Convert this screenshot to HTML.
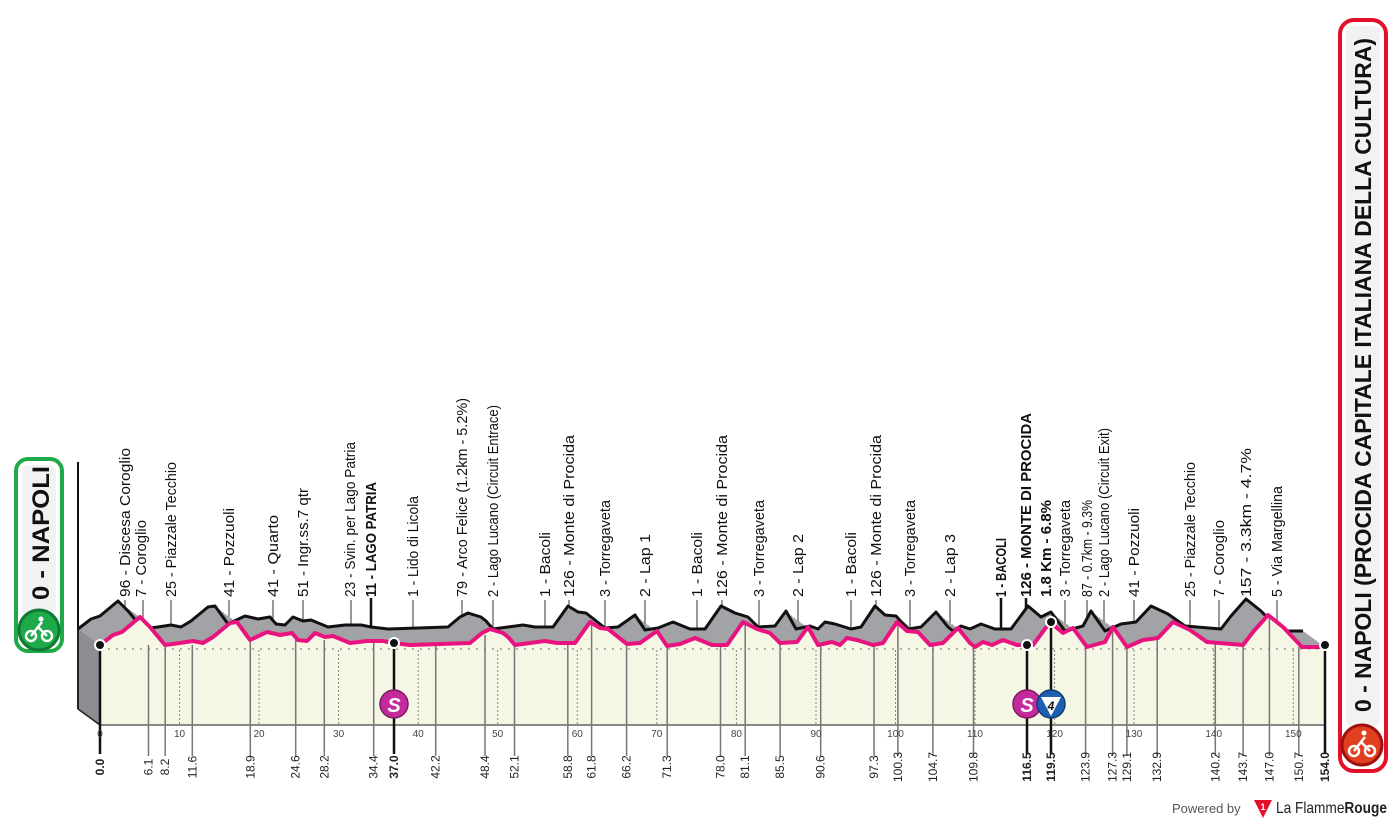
<!DOCTYPE html>
<html><head><meta charset="utf-8"><style>
html,body{margin:0;padding:0;background:#fff;}
svg{display:block;font-family:"Liberation Sans Narrow","Liberation Sans",sans-serif;}
</style></head><body>
<svg width="1400" height="825" viewBox="0 0 1400 825" xmlns="http://www.w3.org/2000/svg">
<defs>
<polygon id="prof" points="100,645 113,635 122,632 140,617 150,627 165,645 180,643 193,641 203,643 213,637 230,623 237,622 250,640 267,632 280,635 292,633 298,640 307,641 315,633 325,637 333,636 350,643 367,641 383,641 393,643 410,645 470,643 482,633 490,629 503,633 508,637 515,645 530,643 545,641 557,643 575,643 590,622 600,628 608,629 627,644 640,643 657,631 667,646 680,644 695,638 712,645 727,645 743,622 757,629 770,633 780,643 797,642 808,627 818,645 832,642 840,645 847,638 857,640 873,645 883,643 897,622 907,631 918,632 930,645 943,643 958,628 970,643 975,647 983,642 992,645 1003,640 1017,645 1033,645 1050,622 1063,633 1073,628 1087,647 1105,642 1113,627 1127,647 1143,640 1158,638 1173,622 1190,630 1207,642 1243,645 1253,632 1268,615 1283,627 1302,647 1325,647 1325,725 100,725"/>
<polyline id="pline" fill="none" points="100,645 113,635 122,632 140,617 150,627 165,645 180,643 193,641 203,643 213,637 230,623 237,622 250,640 267,632 280,635 292,633 298,640 307,641 315,633 325,637 333,636 350,643 367,641 383,641 393,643 410,645 470,643 482,633 490,629 503,633 508,637 515,645 530,643 545,641 557,643 575,643 590,622 600,628 608,629 627,644 640,643 657,631 667,646 680,644 695,638 712,645 727,645 743,622 757,629 770,633 780,643 797,642 808,627 818,645 832,642 840,645 847,638 857,640 873,645 883,643 897,622 907,631 918,632 930,645 943,643 958,628 970,643 975,647 983,642 992,645 1003,640 1017,645 1033,645 1050,622 1063,633 1073,628 1087,647 1105,642 1113,627 1127,647 1143,640 1158,638 1173,622 1190,630 1207,642 1243,645 1253,632 1268,615 1283,627 1302,647 1325,647"/>
</defs>

<line x1="78" y1="462" x2="78" y2="630" stroke="#111" stroke-width="2"/>

<g stroke="#777" stroke-width="1.5">
<line x1="125" y1="600" x2="125" y2="650"/><line x1="143" y1="600" x2="143" y2="650"/><line x1="171" y1="600" x2="171" y2="650"/>
<line x1="229" y1="600" x2="229" y2="650"/><line x1="273" y1="600" x2="273" y2="650"/><line x1="303" y1="600" x2="303" y2="650"/>
<line x1="351" y1="600" x2="351" y2="650"/><line x1="413" y1="600" x2="413" y2="650"/><line x1="462" y1="600" x2="462" y2="650"/>
<line x1="493" y1="600" x2="493" y2="650"/><line x1="545" y1="600" x2="545" y2="650"/><line x1="569" y1="600" x2="569" y2="650"/>
<line x1="605" y1="600" x2="605" y2="650"/><line x1="645" y1="600" x2="645" y2="650"/><line x1="697" y1="600" x2="697" y2="650"/>
<line x1="722" y1="600" x2="722" y2="650"/><line x1="759" y1="600" x2="759" y2="650"/><line x1="798" y1="600" x2="798" y2="650"/>
<line x1="851" y1="600" x2="851" y2="650"/><line x1="876" y1="600" x2="876" y2="650"/><line x1="910" y1="600" x2="910" y2="650"/>
<line x1="950" y1="600" x2="950" y2="650"/><line x1="1065" y1="600" x2="1065" y2="650"/><line x1="1087" y1="600" x2="1087" y2="650"/>
<line x1="1104" y1="600" x2="1104" y2="650"/><line x1="1134" y1="600" x2="1134" y2="650"/><line x1="1190" y1="600" x2="1190" y2="650"/>
<line x1="1219" y1="600" x2="1219" y2="650"/><line x1="1246" y1="600" x2="1246" y2="650"/><line x1="1277" y1="600" x2="1277" y2="650"/>
</g>
<g stroke="#111" stroke-width="2.5">
<line x1="371" y1="598" x2="371" y2="650"/><line x1="1001" y1="598" x2="1001" y2="650"/><line x1="1026" y1="598" x2="1026" y2="650"/>
</g>

<g fill="#a2a3a6">
<use href="#prof" transform="translate(-22,-16)"/>
<use href="#prof" transform="translate(-19.25,-14)"/>
<use href="#prof" transform="translate(-16.5,-12)"/>
<use href="#prof" transform="translate(-13.75,-10)"/>
<use href="#prof" transform="translate(-11,-8)"/>
<use href="#prof" transform="translate(-8.25,-6)"/>
<use href="#prof" transform="translate(-5.5,-4)"/>
<use href="#prof" transform="translate(-2.75,-2)"/>
<polygon points="1300,631 1303,631 1325,647 1300,647"/>
</g>
<use href="#pline" transform="translate(-22,-16)" stroke="#111" stroke-width="3" stroke-linejoin="round"/>
<polygon points="78,629 100,645 100,725 78,709" fill="#8c8d90"/>
<line x1="78" y1="629" x2="78" y2="709" stroke="#222" stroke-width="2"/>
<line x1="78" y1="709" x2="100" y2="725" stroke="#222" stroke-width="1.5"/>

<use href="#prof" fill="#f6f6e4"/>
<line x1="100" y1="725" x2="1325" y2="725" stroke="#888" stroke-width="2"/>
<line x1="100" y1="649" x2="1325" y2="649" stroke="#999" stroke-width="1.5" stroke-dasharray="2,6"/>
<g stroke="#888" stroke-width="1" stroke-dasharray="2,2">
<line x1="179.5" y1="650" x2="179.5" y2="725"/><line x1="259" y1="650" x2="259" y2="725"/><line x1="338.6" y1="650" x2="338.6" y2="725"/>
<line x1="418.2" y1="650" x2="418.2" y2="725"/><line x1="497.7" y1="650" x2="497.7" y2="725"/><line x1="577.3" y1="650" x2="577.3" y2="725"/>
<line x1="656.8" y1="650" x2="656.8" y2="725"/><line x1="736.4" y1="650" x2="736.4" y2="725"/><line x1="816" y1="650" x2="816" y2="725"/>
<line x1="895.5" y1="650" x2="895.5" y2="725"/><line x1="975" y1="650" x2="975" y2="725"/><line x1="1054.6" y1="650" x2="1054.6" y2="725"/>
<line x1="1134" y1="650" x2="1134" y2="725"/><line x1="1213.7" y1="650" x2="1213.7" y2="725"/><line x1="1293.3" y1="650" x2="1293.3" y2="725"/>
</g>

<g stroke="#777" stroke-width="1.5">
<line x1="148.5" y1="645" x2="148.5" y2="756"/><line x1="165.2" y1="645" x2="165.2" y2="756"/><line x1="192.3" y1="645" x2="192.3" y2="756"/>
<line x1="250.3" y1="640" x2="250.3" y2="756"/><line x1="295.7" y1="640" x2="295.7" y2="756"/><line x1="324.3" y1="640" x2="324.3" y2="756"/>
<line x1="373.7" y1="643" x2="373.7" y2="756"/><line x1="435.7" y1="645" x2="435.7" y2="756"/><line x1="485" y1="635" x2="485" y2="756"/>
<line x1="514.5" y1="645" x2="514.5" y2="756"/><line x1="567.8" y1="645" x2="567.8" y2="756"/><line x1="591.6" y1="625" x2="591.6" y2="756"/>
<line x1="626.6" y1="645" x2="626.6" y2="756"/><line x1="667.2" y1="645" x2="667.2" y2="756"/><line x1="720.5" y1="645" x2="720.5" y2="756"/>
<line x1="745.2" y1="625" x2="745.2" y2="756"/><line x1="780.1" y1="645" x2="780.1" y2="756"/><line x1="820.7" y1="645" x2="820.7" y2="756"/>
<line x1="874" y1="645" x2="874" y2="756"/><line x1="897.9" y1="625" x2="897.9" y2="756"/><line x1="932.9" y1="645" x2="932.9" y2="756"/>
<line x1="973.5" y1="645" x2="973.5" y2="756"/><line x1="1085.6" y1="647" x2="1085.6" y2="756"/><line x1="1112.6" y1="630" x2="1112.6" y2="756"/>
<line x1="1126.9" y1="647" x2="1126.9" y2="756"/><line x1="1157.2" y1="640" x2="1157.2" y2="756"/><line x1="1215.3" y1="642" x2="1215.3" y2="756"/>
<line x1="1243.1" y1="645" x2="1243.1" y2="756"/><line x1="1269.4" y1="617" x2="1269.4" y2="756"/><line x1="1298.8" y1="647" x2="1298.8" y2="756"/>
</g>
<g stroke="#111" stroke-width="2.5">
<line x1="100" y1="645" x2="100" y2="754"/><line x1="394" y1="643" x2="394" y2="754"/><line x1="1027" y1="645" x2="1027" y2="754"/>
<line x1="1051" y1="622" x2="1051" y2="754"/><line x1="1325" y1="645" x2="1325" y2="754"/>
</g>

<use href="#pline" stroke="#e8137f" stroke-width="4" stroke-linejoin="round"/>

<g fill="#111" stroke="#fff" stroke-width="2">
<circle cx="100" cy="645" r="5"/><circle cx="394" cy="643" r="5"/><circle cx="1027" cy="645" r="5"/><circle cx="1051" cy="622" r="5"/><circle cx="1325" cy="645" r="5"/>
</g>
<g font-family="Liberation Sans,sans-serif" font-weight="bold" font-style="italic" text-anchor="middle">
<circle cx="394" cy="704" r="14" fill="#c42a9c" stroke="#7a1a62" stroke-width="1.5"/>
<text x="394" y="712" font-size="20" fill="#fff">S</text>
<circle cx="1027" cy="704" r="14" fill="#c42a9c" stroke="#7a1a62" stroke-width="1.5"/>
<text x="1027" y="712" font-size="20" fill="#fff">S</text>
<circle cx="1051" cy="704" r="14" fill="#1f5fb0" stroke="#123c75" stroke-width="1.5"/>
<polygon points="1041,697 1061,697 1051,716" fill="#fff"/>
<text x="1051" y="710" font-size="12" fill="#111">4</text>
</g>

<g font-size="10" fill="#444" text-anchor="middle">
<text x="100" y="737">0</text><text x="179.5" y="737">10</text><text x="259" y="737">20</text><text x="338.6" y="737">30</text>
<text x="418.2" y="737">40</text><text x="497.7" y="737">50</text><text x="577.3" y="737">60</text><text x="656.8" y="737">70</text>
<text x="736.4" y="737">80</text><text x="816" y="737">90</text><text x="895.5" y="737">100</text><text x="975" y="737">110</text>
<text x="1054.6" y="737">120</text><text x="1134" y="737">130</text><text x="1213.7" y="737">140</text><text x="1293.3" y="737">150</text>
</g>

<g font-size="12" fill="#222" text-anchor="middle">
<text transform="translate(104,767) rotate(-90)" font-weight="bold">0.0</text>
<text transform="translate(152.5,767) rotate(-90)">6.1</text>
<text transform="translate(169.2,767) rotate(-90)">8.2</text>
<text transform="translate(196.3,767) rotate(-90)">11.6</text>
<text transform="translate(254.3,767) rotate(-90)">18.9</text>
<text transform="translate(299.7,767) rotate(-90)">24.6</text>
<text transform="translate(328.3,767) rotate(-90)">28.2</text>
<text transform="translate(377.7,767) rotate(-90)">34.4</text>
<text transform="translate(398,767) rotate(-90)" font-weight="bold">37.0</text>
<text transform="translate(439.7,767) rotate(-90)">42.2</text>
<text transform="translate(489,767) rotate(-90)">48.4</text>
<text transform="translate(518.5,767) rotate(-90)">52.1</text>
<text transform="translate(571.8,767) rotate(-90)">58.8</text>
<text transform="translate(595.6,767) rotate(-90)">61.8</text>
<text transform="translate(630.6,767) rotate(-90)">66.2</text>
<text transform="translate(671.2,767) rotate(-90)">71.3</text>
<text transform="translate(724.5,767) rotate(-90)">78.0</text>
<text transform="translate(749.2,767) rotate(-90)">81.1</text>
<text transform="translate(784.1,767) rotate(-90)">85.5</text>
<text transform="translate(824.7,767) rotate(-90)">90.6</text>
<text transform="translate(878,767) rotate(-90)">97.3</text>
<text transform="translate(901.9,767) rotate(-90)">100.3</text>
<text transform="translate(936.9,767) rotate(-90)">104.7</text>
<text transform="translate(977.5,767) rotate(-90)">109.8</text>
<text transform="translate(1031,767) rotate(-90)" font-weight="bold">116.5</text>
<text transform="translate(1055,767) rotate(-90)" font-weight="bold">119.5</text>
<text transform="translate(1089.6,767) rotate(-90)">123.9</text>
<text transform="translate(1116.6,767) rotate(-90)">127.3</text>
<text transform="translate(1130.9,767) rotate(-90)">129.1</text>
<text transform="translate(1161.2,767) rotate(-90)">132.9</text>
<text transform="translate(1219.3,767) rotate(-90)">140.2</text>
<text transform="translate(1247.1,767) rotate(-90)">143.7</text>
<text transform="translate(1273.4,767) rotate(-90)">147.0</text>
<text transform="translate(1302.8,767) rotate(-90)">150.7</text>
<text transform="translate(1329,767) rotate(-90)" font-weight="bold">154.0</text>
</g>

<g font-size="15" fill="#111">
<text transform="translate(130,597) rotate(-90)" textLength="149" lengthAdjust="spacingAndGlyphs">96 - Discesa Coroglio</text>
<text transform="translate(146,597) rotate(-90)" textLength="77" lengthAdjust="spacingAndGlyphs">7 - Coroglio</text>
<text transform="translate(176,597) rotate(-90)" textLength="135" lengthAdjust="spacingAndGlyphs">25 - Piazzale Tecchio</text>
<text transform="translate(234,597) rotate(-90)" textLength="89" lengthAdjust="spacingAndGlyphs">41 - Pozzuoli</text>
<text transform="translate(278,597) rotate(-90)" textLength="82" lengthAdjust="spacingAndGlyphs">41 - Quarto</text>
<text transform="translate(308,597) rotate(-90)" textLength="109" lengthAdjust="spacingAndGlyphs">51 - Ingr.ss.7 qtr</text>
<text transform="translate(355,597) rotate(-90)" textLength="155" lengthAdjust="spacingAndGlyphs">23 - Svin. per Lago Patria</text>
<text transform="translate(376,597) rotate(-90)" textLength="115" lengthAdjust="spacingAndGlyphs" font-weight="bold">11 - LAGO PATRIA</text>
<text transform="translate(418,597) rotate(-90)" textLength="101" lengthAdjust="spacingAndGlyphs">1 - Lido di Licola</text>
<text transform="translate(467,597) rotate(-90)" textLength="199" lengthAdjust="spacingAndGlyphs">79 - Arco Felice (1.2km - 5.2%)</text>
<text transform="translate(498,597) rotate(-90)" textLength="192" lengthAdjust="spacingAndGlyphs">2 - Lago Lucano (Circuit Entrace)</text>
<text transform="translate(550,597) rotate(-90)" textLength="65" lengthAdjust="spacingAndGlyphs">1 - Bacoli</text>
<text transform="translate(574,597) rotate(-90)" textLength="162" lengthAdjust="spacingAndGlyphs">126 - Monte di Procida</text>
<text transform="translate(610,597) rotate(-90)" textLength="97" lengthAdjust="spacingAndGlyphs">3 - Torregaveta</text>
<text transform="translate(650,597) rotate(-90)" textLength="63" lengthAdjust="spacingAndGlyphs">2 - Lap 1</text>
<text transform="translate(702,597) rotate(-90)" textLength="65" lengthAdjust="spacingAndGlyphs">1 - Bacoli</text>
<text transform="translate(727,597) rotate(-90)" textLength="162" lengthAdjust="spacingAndGlyphs">126 - Monte di Procida</text>
<text transform="translate(764,597) rotate(-90)" textLength="97" lengthAdjust="spacingAndGlyphs">3 - Torregaveta</text>
<text transform="translate(803,597) rotate(-90)" textLength="63" lengthAdjust="spacingAndGlyphs">2 - Lap 2</text>
<text transform="translate(856,597) rotate(-90)" textLength="65" lengthAdjust="spacingAndGlyphs">1 - Bacoli</text>
<text transform="translate(881,597) rotate(-90)" textLength="162" lengthAdjust="spacingAndGlyphs">126 - Monte di Procida</text>
<text transform="translate(915,597) rotate(-90)" textLength="97" lengthAdjust="spacingAndGlyphs">3 - Torregaveta</text>
<text transform="translate(955,597) rotate(-90)" textLength="63" lengthAdjust="spacingAndGlyphs">2 - Lap 3</text>
<text transform="translate(1006,597) rotate(-90)" textLength="59" lengthAdjust="spacingAndGlyphs" font-weight="bold">1 - BACOLI</text>
<text transform="translate(1031,597) rotate(-90)" textLength="184" lengthAdjust="spacingAndGlyphs" font-weight="bold">126 - MONTE DI PROCIDA</text>
<text transform="translate(1051,597) rotate(-90)" textLength="97" lengthAdjust="spacingAndGlyphs" font-weight="bold">1.8 Km - 6.8%</text>
<text transform="translate(1070,597) rotate(-90)" textLength="97" lengthAdjust="spacingAndGlyphs">3 - Torregaveta</text>
<text transform="translate(1092,597) rotate(-90)" textLength="97" lengthAdjust="spacingAndGlyphs">87 - 0.7km - 9.3%</text>
<text transform="translate(1109,597) rotate(-90)" textLength="169" lengthAdjust="spacingAndGlyphs">2 - Lago Lucano (Circuit Exit)</text>
<text transform="translate(1139,597) rotate(-90)" textLength="89" lengthAdjust="spacingAndGlyphs">41 - Pozzuoli</text>
<text transform="translate(1195,597) rotate(-90)" textLength="135" lengthAdjust="spacingAndGlyphs">25 - Piazzale Tecchio</text>
<text transform="translate(1224,597) rotate(-90)" textLength="77" lengthAdjust="spacingAndGlyphs">7 - Coroglio</text>
<text transform="translate(1251,597) rotate(-90)" textLength="149" lengthAdjust="spacingAndGlyphs">157 - 3.3km - 4.7%</text>
<text transform="translate(1282,597) rotate(-90)" textLength="111" lengthAdjust="spacingAndGlyphs">5 - Via Margellina</text>
</g>

<rect x="16" y="459" width="46" height="192" rx="12" fill="#fff" stroke="#1faa4a" stroke-width="4"/>
<rect x="22" y="465" width="34" height="150" rx="6" fill="#f2f2f2"/>
<text transform="translate(49,600) rotate(-90)" font-family="Liberation Sans,sans-serif" font-weight="bold" font-size="24" fill="#111" textLength="134" lengthAdjust="spacingAndGlyphs">0 - NAPOLI</text>
<circle cx="39" cy="630" r="20" fill="#1faa4a" stroke="#0f7a33" stroke-width="3"/>
<g stroke="#fff" stroke-width="2.5" fill="none"><circle cx="31" cy="636" r="5"/><circle cx="47" cy="636" r="5"/><path d="M31 636 L38 627 L47 636 M38 627 L42 622"/></g>
<circle cx="41" cy="619" r="2.5" fill="#fff"/>

<rect x="1340" y="20" width="46" height="751" rx="14" fill="#fff" stroke="#e3102a" stroke-width="4"/>
<rect x="1346" y="26" width="34" height="700" rx="6" fill="#f2f2f2"/>
<text transform="translate(1371,712) rotate(-90)" font-family="Liberation Sans,sans-serif" font-weight="bold" font-size="23" fill="#111" textLength="674" lengthAdjust="spacingAndGlyphs">0 - NAPOLI (PROCIDA CAPITALE ITALIANA DELLA CULTURA)</text>
<circle cx="1362" cy="745" r="20" fill="#e04020" stroke="#a01010" stroke-width="3"/>
<g stroke="#fff" stroke-width="2.5" fill="none"><circle cx="1354" cy="751" r="5"/><circle cx="1370" cy="751" r="5"/><path d="M1354 751 L1361 742 L1370 751 M1361 742 L1365 737"/></g>
<circle cx="1364" cy="733" r="2.5" fill="#fff"/>

<text x="1172" y="813" font-family="Liberation Sans,sans-serif" font-size="13" fill="#555">Powered by</text>
<polygon points="1254,800 1272,800 1263,818" fill="#e3102a"/>
<text x="1263" y="810" font-family="Liberation Sans,sans-serif" font-size="9" font-weight="bold" fill="#fff" text-anchor="middle">1</text>
<text x="1276" y="813" font-family="Liberation Sans,sans-serif" font-size="16" fill="#222" textLength="111" lengthAdjust="spacingAndGlyphs">La Flamme<tspan font-weight="bold">Rouge</tspan></text>
</svg>
</body></html>
